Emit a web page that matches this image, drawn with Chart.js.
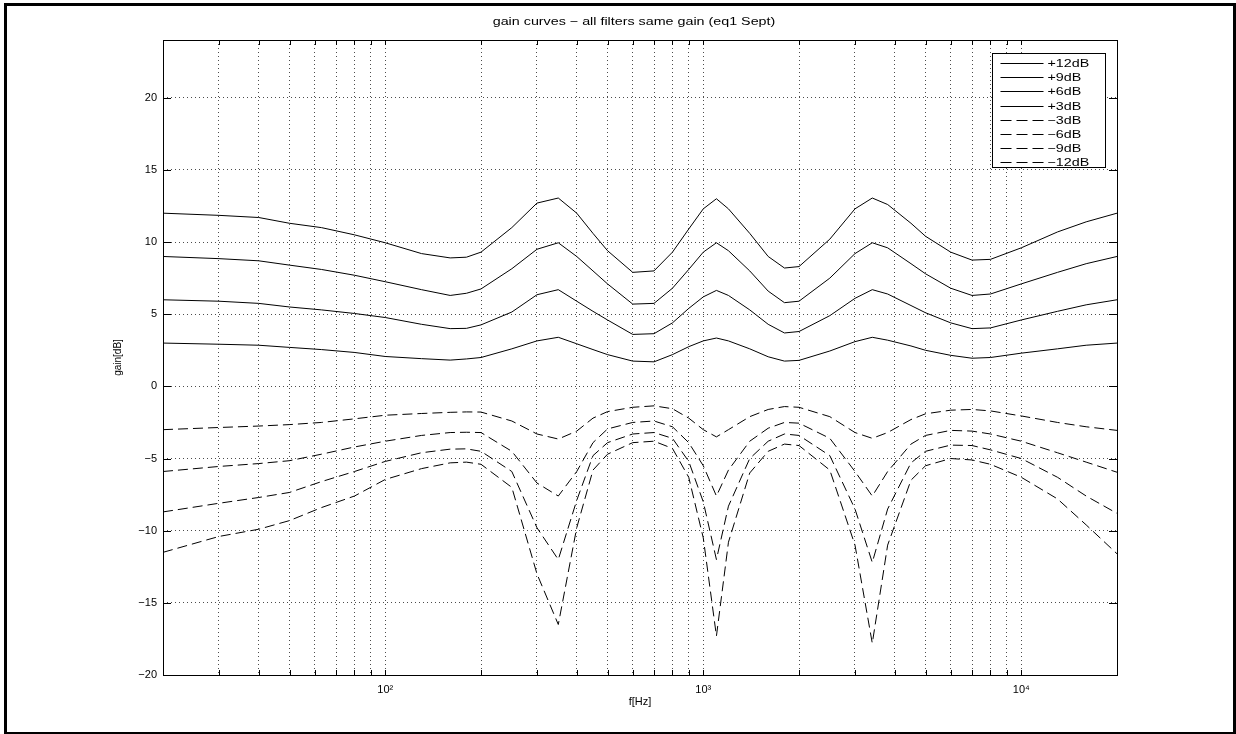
<!DOCTYPE html>
<html>
<head>
<meta charset="utf-8">
<title>gain curves</title>
<script src="https://cdn.jsdelivr.net/npm/chart.js@4.4.1/dist/chart.umd.min.js"></script>
<style>
  html, body { margin: 0; padding: 0; background: #fff; }
  #wrap { position: relative; width: 1236px; height: 734px; }
  #frame { position: absolute; left: 4px; top: 3px; width: 1226px; height: 726px; border: 3px solid #000; pointer-events: none; }
  canvas { position: absolute; left: 0; top: 0; }
</style>
</head>
<body>
<div id="wrap">
  <canvas id="chart" width="1236" height="734"></canvas>
  <div id="frame"></div>
</div>
<script>
// frequency points (Hz)
const freqs = [20, 30, 40, 50, 63, 80, 100, 130, 160, 180, 200, 250, 300, 350, 400, 450, 500, 600, 700, 800,
  900, 1000, 1100, 1200, 1400, 1600, 1800, 2000, 2500, 3000, 3400, 3800, 4500, 5000, 6000, 7000, 8000,
  10000, 13000, 16000, 20000];

// gain curves (dB)
const gainP12 = [12.0, 11.85, 11.7, 11.3, 11.0, 10.5, 9.95, 9.2, 8.9, 8.95, 9.3, 11.0, 12.7, 13.05, 12.0, 10.6, 9.4, 7.9, 8.0, 9.3,
  10.9, 12.3, 13.0, 12.3, 10.6, 9.0, 8.2, 8.3, 10.2, 12.3, 13.05, 12.6, 11.3, 10.4, 9.3, 8.75, 8.8,
  9.6, 10.7, 11.4, 12.0];
const gainP9 = [9.0, 8.85, 8.7, 8.4, 8.1, 7.7, 7.25, 6.7, 6.3, 6.45, 6.75, 8.15, 9.5, 9.95, 9.0, 8.0, 7.1, 5.7, 5.75, 6.8,
  8.1, 9.3, 9.95, 9.4, 8.0, 6.6, 5.8, 5.9, 7.5, 9.2, 9.95, 9.6, 8.5, 7.8, 6.8, 6.3, 6.4,
  7.1, 7.9, 8.5, 9.0];
const gainP6 = [6.0, 5.9, 5.75, 5.5, 5.3, 5.05, 4.77, 4.3, 4.0, 4.02, 4.26, 5.15, 6.35, 6.7, 5.9, 5.2, 4.6, 3.6, 3.65, 4.4,
  5.4, 6.2, 6.65, 6.3, 5.3, 4.3, 3.7, 3.8, 4.9, 6.1, 6.7, 6.4, 5.6, 5.1, 4.4, 4.0, 4.05,
  4.6, 5.2, 5.65, 6.0];
const gainP3 = [3.0, 2.92, 2.85, 2.7, 2.55, 2.35, 2.07, 1.92, 1.82, 1.9, 2.0, 2.6, 3.15, 3.4, 2.95, 2.55, 2.2, 1.75, 1.7, 2.2,
  2.75, 3.15, 3.35, 3.15, 2.6, 2.05, 1.75, 1.8, 2.45, 3.1, 3.4, 3.2, 2.8, 2.5, 2.15, 1.95, 2.0,
  2.3, 2.6, 2.85, 3.0];
const gainM3 = [-3.0, -2.85, -2.75, -2.65, -2.5, -2.25, -2.0, -1.88, -1.8, -1.77, -1.78, -2.4, -3.3, -3.65, -3.1, -2.2, -1.75, -1.45, -1.35, -1.55,
  -2.2, -3.0, -3.5, -3.0, -2.1, -1.6, -1.4, -1.45, -2.1, -3.2, -3.6, -3.2, -2.3, -1.9, -1.65, -1.6, -1.7,
  -2.05, -2.5, -2.8, -3.05];
const gainM6 = [-5.9, -5.55, -5.35, -5.15, -4.7, -4.2, -3.8, -3.4, -3.2, -3.18, -3.2, -4.5, -6.7, -7.6, -5.9, -3.9, -2.95, -2.5, -2.4, -2.8,
  -3.9, -5.5, -7.6, -5.8, -3.8, -2.9, -2.5, -2.55, -3.6, -5.9, -7.6, -5.9, -4.0, -3.4, -3.05, -3.1, -3.3,
  -3.8, -4.6, -5.25, -5.95];
const gainM9 = [-8.7, -8.1, -7.7, -7.35, -6.6, -5.9, -5.2, -4.6, -4.35, -4.33, -4.5, -5.9, -9.8, -12.0, -7.9, -4.8, -3.9, -3.3, -3.2, -3.6,
  -5.2, -8.0, -12.0, -8.3, -5.0, -3.8, -3.3, -3.4, -4.8, -8.5, -12.2, -8.5, -5.3, -4.5, -4.07, -4.1, -4.4,
  -5.0, -6.3, -7.6, -8.8];
const gainM12 = [-11.5, -10.4, -9.9, -9.3, -8.4, -7.6, -6.45, -5.7, -5.3, -5.25, -5.4, -7.0, -13.0, -16.5, -9.8, -5.8, -4.7, -3.9, -3.8, -4.3,
  -6.3, -10.5, -17.3, -10.8, -6.0, -4.5, -4.0, -4.1, -5.8, -11.0, -17.8, -11.0, -6.5, -5.5, -5.0, -5.1, -5.4,
  -6.3, -7.8, -9.6, -11.6];

const seriesLabels = ['+12dB', '+9dB', '+6dB', '+3dB', '\u22123dB', '\u22126dB', '\u22129dB', '\u221212dB'];
const seriesValues = [gainP12, gainP9, gainP6, gainP3, gainM3, gainM6, gainM9, gainM12];

// tick values
const yTicks = [-20, -15, -10, -5, 0, 5, 10, 15, 20];
const xDecades = [10, 100, 1000, 10000];
const supDigits = { 1: '\u00b9', 2: '\u00b2', 3: '\u00b3', 4: '\u2074' };

const titleText = 'gain curves \u2212 all filters same gain (eq1 Sept)';

const FONT = "'Liberation Sans', Arial, Helvetica, sans-serif";
const DASH = [10, 5];

const datasets = seriesLabels.map((label, i) => ({
  label: label,
  data: freqs.map((f, j) => ({ x: f, y: seriesValues[i][j] })),
  borderColor: '#000',
  borderWidth: 1,
  borderDash: i < 4 ? [] : DASH,
  pointRadius: 0,
  tension: 0,
  fill: false
}));

// wide-looking text, like the old screen font of the original
function wideText(ctx, text, x, y, align, stretch) {
  ctx.save();
  ctx.translate(x, y);
  ctx.scale(stretch, 1);
  ctx.textAlign = align;
  ctx.fillText(text, 0, 0);
  ctx.restore();
}

// title, axes box, inward ticks and legend drawn like the original plot
const boxPlugin = {
  id: 'boxPlugin',
  afterDraw(chart) {
    const { ctx, chartArea: a, scales } = chart;
    const xs = scales.x, ys = scales.y;
    ctx.save();
    ctx.strokeStyle = '#000';
    ctx.lineWidth = 1;
    ctx.setLineDash([]);
    ctx.strokeRect(Math.round(a.left) + 0.5, Math.round(a.top) + 0.5,
      Math.round(a.right - a.left), Math.round(a.bottom - a.top));

    ctx.beginPath();
    xs.ticks.forEach(t => {
      const px = Math.round(xs.getPixelForValue(t.value)) + 0.5;
      ctx.moveTo(px, a.bottom); ctx.lineTo(px, a.bottom - 5);
      ctx.moveTo(px, a.top); ctx.lineTo(px, a.top + 5);
    });
    ys.ticks.forEach(t => {
      const py = Math.round(ys.getPixelForValue(t.value)) + 0.5;
      ctx.moveTo(a.left, py); ctx.lineTo(a.left + 8, py);
      ctx.moveTo(a.right, py); ctx.lineTo(a.right - 8, py);
    });
    ctx.stroke();

    // title
    ctx.fillStyle = '#000';
    ctx.font = '11px ' + FONT;
    ctx.textBaseline = 'middle';
    wideText(ctx, titleText, 634, 22, 'center', 1.3);

    // legend box
    const bw = 113, bh = 114;
    const bx = Math.round(a.right - 12 - bw) + 0.5;
    const by = Math.round(a.top + 13) + 0.5;
    ctx.fillStyle = '#fff';
    ctx.fillRect(bx, by, bw, bh);
    ctx.strokeRect(bx, by, bw, bh);
    ctx.fillStyle = '#000';
    chart.data.datasets.forEach((ds, i) => {
      const ry = Math.round(by + 9.5 + i * 14.2) + 0.5;
      ctx.beginPath();
      ctx.setLineDash(ds.borderDash.length ? [11, 5] : []);
      ctx.moveTo(bx + 8, ry);
      ctx.lineTo(bx + 51, ry);
      ctx.stroke();
      ctx.setLineDash([]);
      wideText(ctx, ds.label, bx + 55, ry, 'left', 1.3);
    });
    ctx.restore();
  }
};

new Chart(document.getElementById('chart'), {
  type: 'line',
  data: { datasets: datasets },
  options: {
    responsive: false,
    animation: false,
    layout: { padding: { left: 0, right: 119, top: 40, bottom: 0 } },
    plugins: {
      legend: { display: false },
      tooltip: { enabled: false },
      title: { display: false }
    },
    scales: {
      x: {
        type: 'logarithmic',
        min: 20,
        max: 20000,
        afterFit(scale) { scale.height = 59; },
        afterBuildTicks(scale) {
          const list = [];
          xDecades.forEach(d => {
            for (let m = 1; m <= 9; m++) {
              const v = m * d;
              if (v >= 20 && v <= 20000) list.push({ value: v });
            }
          });
          scale.ticks = list;
        },
        ticks: {
          autoSkip: false,
          maxRotation: 0,
          padding: 8,
          color: '#000',
          font: { family: FONT, size: 11 },
          callback(value) {
            const e = Math.log10(value);
            const r = Math.round(e);
            return Math.abs(e - r) < 1e-9 ? '10' + supDigits[r] : '';
          }
        },
        grid: { color: 'rgba(0,0,0,0.7)', lineWidth: 1, drawTicks: false },
        border: { display: false, dash: [1, 3] },
        title: {
          display: true,
          text: 'f[Hz]',
          color: '#000',
          font: { family: FONT, size: 11 },
          padding: { top: 0, bottom: 25 }
        }
      },
      y: {
        type: 'linear',
        min: -20,
        max: 24,
        afterFit(scale) { scale.width = 163; },
        afterBuildTicks(scale) {
          scale.ticks = yTicks.map(v => ({ value: v }));
        },
        ticks: {
          padding: 6,
          color: '#000',
          font: { family: FONT, size: 11 },
          callback(value) { return value < 0 ? '\u2212' + Math.abs(value) : String(value); }
        },
        grid: { color: 'rgba(0,0,0,0.7)', lineWidth: 1, drawTicks: false },
        border: { display: false, dash: [1, 3] },
        title: {
          display: true,
          text: 'gain[dB]',
          color: '#000',
          font: { family: FONT, size: 10 },
          padding: { top: 112, bottom: 0 }
        }
      }
    }
  },
  plugins: [boxPlugin]
});
</script>
</body>
</html>
